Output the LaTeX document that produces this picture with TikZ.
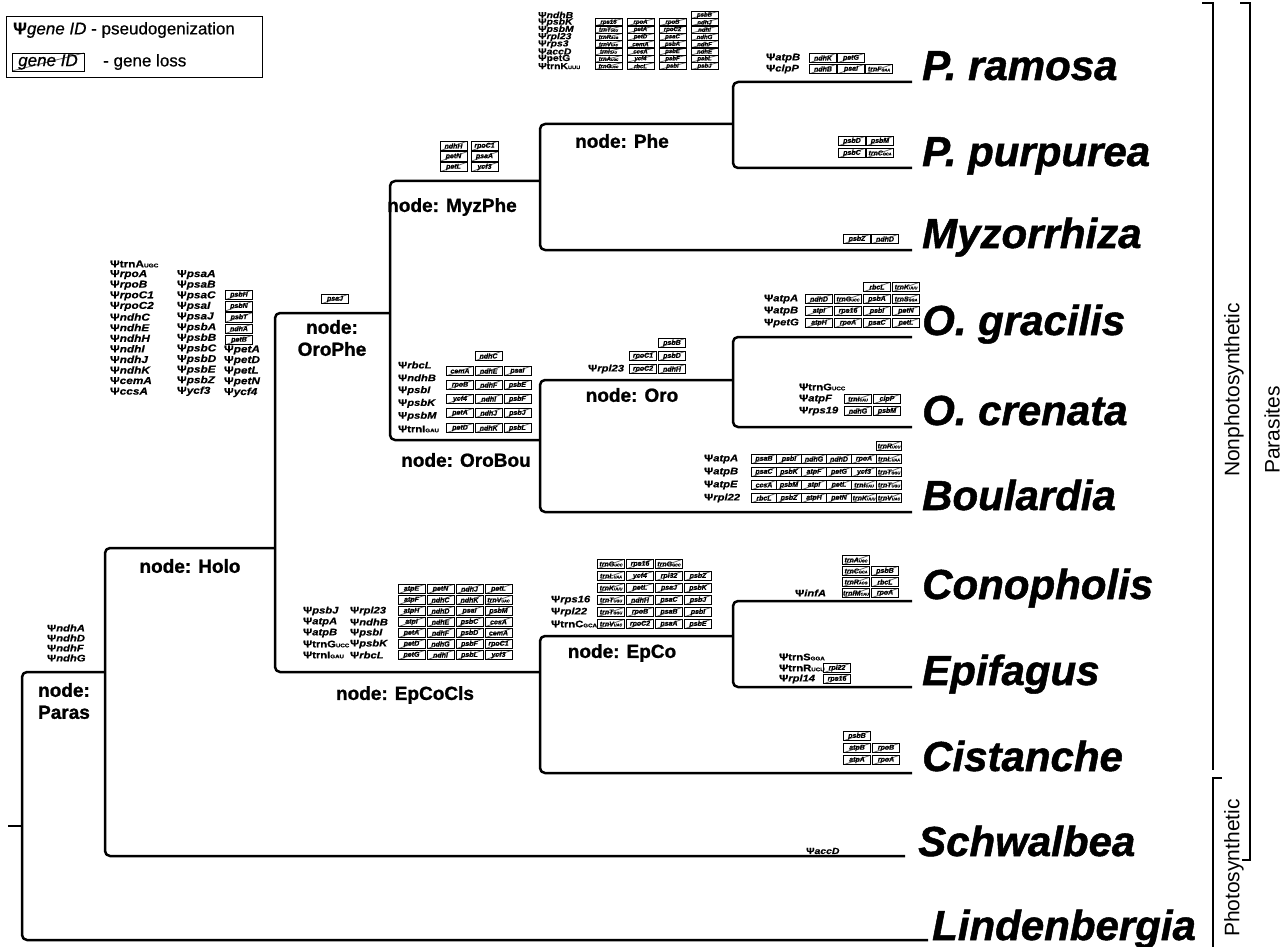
\documentclass[tikz,border=0pt]{standalone}
\usepackage{fontspec}
\setmainfont{Liberation Sans}
\newfontfamily\gf[FakeStretch=1.18,FakeBold=0.6]{Liberation Sans}
\newfontfamily\mdf[FakeBold=0.6]{Liberation Sans}
\newfontfamily\hv[FakeBold=1.2]{Liberation Sans}
\newcommand\an[1]{\scalebox{0.55}{#1}}
\newcommand\pg[1]{Ψ\textit{#1}}
\newcommand\pgu[1]{Ψ#1}
\newcommand\lrow[6][]{\foreach \g [count=\i] in {#6} {\node[lossbox,#1] (#2-\i) at ({#3+(\i-1)*#4},#5) {\g};}}
\newcommand\plist[6][]{\foreach \g [count=\i] in {#6} {\node[psi,#1] (#2-\i) at (#3,{#4+(\i-1)*#5}) {\g};}}
\tikzset{
 tree/.style={line width=2.5pt, rounded corners=5pt, line join=round},
 lossbox/.style={draw=black, line width=0.8pt, minimum width=27pt, minimum height=9.6pt, inner sep=0pt,
   font=\mdf\bfseries\itshape\fontsize{7}{7}\selectfont,
   path picture={\draw[line width=0.8pt, black!60] (path picture bounding box.south west) -- (path picture bounding box.north east);}},
 phe/.style={minimum height=7pt, minimum width=27pt, font=\mdf\bfseries\itshape\fontsize{6}{6}\selectfont},
 w24/.style={minimum width=24.5pt},
 psi/.style={anchor=west, inner sep=0pt, font=\gf\bfseries\fontsize{9.5}{9.5}\selectfont},
 psis/.style={font=\gf\bfseries\fontsize{8.8}{8.8}\selectfont},
 psib/.style={font=\gf\bfseries\fontsize{10}{10}\selectfont},
 nlabel/.style={font=\hv\bfseries\fontsize{19}{22}\selectfont, align=center, inner sep=0pt},
 species/.style={anchor=base west, inner sep=0pt, font=\hv\bfseries\itshape\fontsize{42}{42}\selectfont},
 side/.style={rotate=90, font=\fontsize{21}{21}\selectfont, inner sep=0pt},
 bracket/.style={line width=1.3pt},
}
\begin{document}
\begin{tikzpicture}[x=1pt,y=-1pt]
\useasboundingbox (0,0) rectangle (1286,947);
% ---------- tips
\coordinate (ram) at (912,82);
\coordinate (pur) at (912,168);
\coordinate (myz) at (912,250);
\coordinate (gra) at (912,337);
\coordinate (cre) at (912,427);
\coordinate (bou) at (912,512);
\coordinate (con) at (912,601);
\coordinate (epi) at (912,687);
\coordinate (cis) at (912,773);
\coordinate (sch) at (905,856);
\coordinate (lin) at (928,940);
\coordinate (root) at (8,826);
% ---------- tree
\draw[tree] (root) -- (22,826);
\draw[tree] (105,672) -- (22,672) -- (22,940) -- (lin);
\draw[tree] (275,548) -- (105,548) -- (105,856) -- (sch);
\draw[tree] (390,313) -- (275,313) -- (275,672) -- (540,672);
\draw[tree] (540,181) -- (390,181) -- (390,440) -- (540,440);
\draw[tree] (733,124) -- (540,124) -- (540,250) -- (myz);
\draw[tree] (ram) -- (733,82) -- (733,168) -- (pur);
\draw[tree] (733,380) -- (540,380) -- (540,512) -- (bou);
\draw[tree] (gra) -- (733,337) -- (733,427) -- (cre);
\draw[tree] (733,636) -- (540,636) -- (540,773) -- (cis);
\draw[tree] (con) -- (733,601) -- (733,687) -- (epi);
% ---------- species
\node[species] (sp-ram) at (922,80) {P. ramosa};
\node[species] (sp-pur) at (922,166) {P. purpurea};
\node[species] (sp-myz) at (922,248) {Myzorrhiza};
\node[species] (sp-gra) at (922,335) {O. gracilis};
\node[species] (sp-cre) at (922,425) {O. crenata};
\node[species] (sp-bou) at (922,510) {Boulardia};
\node[species] (sp-con) at (922,599) {Conopholis};
\node[species] (sp-epi) at (922,685) {Epifagus};
\node[species] (sp-cis) at (922,771) {Cistanche};
\node[species] (sp-sch) at (918,856) {Schwalbea};
\node[species] (sp-lin) at (932,940) {Lindenbergia};
% ---------- node labels
\node[nlabel] (n-phe) at (622,141) {node: Phe};
\node[nlabel] (n-myzphe) at (452,207) {node: MyzPhe};
\node[nlabel] (n-orophe) at (332,338) {node:\\OroPhe};
\node[nlabel] (n-holo) at (190,566) {node: Holo};
\node[nlabel] (n-oro) at (632,395) {node: Oro};
\node[nlabel] (n-orobou) at (466,460) {node: OroBou};
\node[nlabel] (n-epco) at (622,653) {node: EpCo};
\node[nlabel] (n-epcocls) at (405,695) {node: EpCoCls};
\node[nlabel] (n-paras) at (64,701) {node:\\Paras};
% ---------- legend
\node[draw, line width=0.8pt, minimum width=256pt, minimum height=61pt, inner sep=0pt] (legend) at (134,46.5) {};
\node[anchor=west, inner sep=0pt, font=\mdf\fontsize{17}{17}\selectfont] (leg1) at (13,30) {\textbf{Ψ}\textit{gene ID} - pseudogenization};
\node[lossbox, minimum width=72pt, minimum height=18pt, font=\mdf\itshape\fontsize{17}{17}\selectfont] (leg2box) at (48,62) {gene ID};
\node[anchor=west, inner sep=0pt, font=\mdf\fontsize{17}{17}\selectfont] (leg2) at (103,62) {- gene loss};
% ---------- side brackets
\draw[bracket] (1240,3) -- (1250,3) -- (1250,860) -- (1242,860);
\node[side] (parasites) at (1272,430) {Parasites};
\draw[bracket] (1202,3) -- (1213,3) -- (1213,770);
\node[side] (nonphoto) at (1234,390) {Nonphotosynthetic};
\draw[bracket] (1222,778) -- (1213,778) -- (1213,947);
\node[side] (photo) at (1234,868) {Photosynthetic};
% ---------- Phe
\plist[psis]{phe-p}{538}{15}{7.3}{\pg{ndhB},\pg{psbK},\pg{psbM},\pg{rpl23},\pg{rps3},\pg{accD},\pgu{petG},\pgu{trnK\an{UUU}}}
\node[lossbox,phe] (phe-0) at (704.5,15) {psbB};
\lrow[phe]{phe1}{608.5}{32}{22.3}{rps16,rpoA,rpoB,ndhJ}
\lrow[phe]{phe2}{608.5}{32}{29.6}{trnT\an{UGU},petA,rpoC2,ndhI}
\lrow[phe]{phe3}{608.5}{32}{36.9}{trnR\an{ACG},petD,psaC,ndhG}
\lrow[phe]{phe4}{608.5}{32}{44.2}{trnV\an{UAC},cemA,psbA,ndhF}
\lrow[phe]{phe5}{608.5}{32}{51.5}{trnI\an{GAU},ccsA,psbE,ndhE}
\lrow[phe]{phe6}{608.5}{32}{58.8}{trnA\an{UGC},ycf4,psbF,psbL}
\lrow[phe]{phe7}{608.5}{32}{66.1}{trnG\an{UCC},rbcL,psbI,psbJ}
% ---------- P. ramosa / P. purpurea / Myzorrhiza
\plist{ram-p}{766}{58}{11}{\pg{atpB},\pg{clpP}}
\lrow{ram1}{823}{28}{58}{ndhK,petG}
\lrow{ram2}{823}{28}{69}{ndhB,psaI,trnF\an{GAA}}
\lrow{pur1}{852}{28}{141}{psbD,psbM}
\lrow{pur2}{852}{28}{153}{psbC,trnC\an{GCA}}
\lrow{myz}{857}{28}{239}{psbZ,ndhD}
% ---------- MyzPhe, OroPhe
\lrow{mp1}{453.5}{31}{146}{ndhH,rpoC1}
\lrow{mp2}{453.5}{31}{156.5}{petN,psaA}
\lrow{mp3}{453.5}{31}{167}{petL,ycf3}
\node[lossbox] (op-1) at (335,299) {psaJ};
% ---------- Holo
\plist[psib]{holo-a}{110}{264}{10.6}{\pgu{trnA\an{UGC}},\pg{rpoA},\pg{rpoB},\pg{rpoC1},\pg{rpoC2},\pg{ndhC},\pg{ndhE},\pg{ndhH},\pg{ndhI},\pg{ndhJ},\pg{ndhK},\pg{cemA},\pg{ccsA}}
\plist[psib]{holo-b}{177}{274.6}{10.6}{\pg{psaA},\pg{psaB},\pg{psaC},\pg{psaI},\pg{psaJ},\pg{psbA},\pg{psbB},\pg{psbC},\pg{psbD},\pg{psbE},\pg{psbZ},\pg{ycf3}}
\plist[psib]{holo-c}{224}{350}{10.6}{\pg{petA},\pg{petD},\pg{petL},\pg{petN},\pg{ycf4}}
\foreach \g [count=\i] in {psbH,psbN,psbT,ndhA,petB} {\node[lossbox] (holo-x\i) at (239,{283.5+11.3*\i}) {\g};}
% ---------- Paras
\plist{paras-p}{47}{628}{10}{\pg{ndhA},\pg{ndhD},\pg{ndhF},\pg{ndhG}}
% ---------- OroBou
\plist{ob-p}{398}{365}{12.8}{\pg{rbcL},\pg{ndhB},\pg{psbI},\pg{psbK},\pg{psbM},\pgu{trnI\an{GAU}}}
\node[lossbox] (ob-0) at (488.5,356) {ndhC};
\lrow{ob1}{460}{28.7}{371}{cemA,ndhE,psaI}
\lrow{ob2}{460}{28.7}{385}{rpoB,ndhF,psbE}
\lrow{ob3}{460}{28.7}{399}{ycf4,ndhI,psbF}
\lrow{ob4}{460}{28.7}{413}{petA,ndhJ,psbJ}
\lrow{ob5}{460}{28.7}{428}{petD,ndhK,psbL}
% ---------- Oro
\node[lossbox] (oro-0) at (672,343) {psbB};
\lrow{oro1}{643}{29}{356}{rpoC1,psbD}
\lrow{oro2}{643}{29}{369}{rpoC2,ndhH}
\node[psi] (oro-p) at (588,369) {\pg{rpl23}};
% ---------- O. gracilis
\lrow{gra0}{877}{29}{287}{rbcL,trnK\an{UUU}}
\lrow{gra1}{819}{29}{299}{ndhD,trnG\an{UCC},psbA,trnS\an{GGA}}
\lrow{gra2}{819}{29}{311}{atpI,rps16,psbI,petN}
\lrow{gra3}{819}{29}{323}{atpH,rpoA,psaC,petL}
\plist{gra-p}{764}{299}{12}{\pg{atpA},\pg{atpB},\pg{petG}}
% ---------- O. crenata
\plist{cre-p}{799}{387}{12}{\pgu{trnG\an{UCC}},\pg{atpF},\pg{rps19}}
\lrow{cre1}{858}{29}{399}{trnI\an{CAU},clpP}
\lrow{cre2}{858}{29}{411}{ndhG,psbM}
% ---------- Boulardia
\node[lossbox,w24] (bou-0) at (889,446) {trnR\an{UCU}};
\lrow[w24]{bou1}{764}{25}{459}{psaB,psbI,ndhG,ndhD,rpoA,trnL\an{UAA}}
\lrow[w24]{bou2}{764}{25}{472}{psaC,psbK,atpF,petG,ycf3,trnT\an{GGU}}
\lrow[w24]{bou3}{764}{25}{485}{ccsA,psbM,atpI,petL,trnI\an{CAU},trnT\an{UGU}}
\lrow[w24]{bou4}{764}{25}{498}{rbcL,psbZ,atpH,petN,trnK\an{UUU},trnV\an{UAC}}
\plist{bou-p}{704}{459}{13}{\pg{atpA},\pg{atpB},\pg{atpE},\pg{rpl22}}
% ---------- EpCoCls
\lrow{ecc0}{411.5}{29}{589}{atpE,petN,ndhJ,petL}
\lrow{ecc1}{411.5}{29}{600}{atpF,ndhC,ndhK,trnV\an{UAC}}
\lrow{ecc2}{411.5}{29}{611}{atpH,ndhD,psaI,psbM}
\lrow{ecc3}{411.5}{29}{622}{atpI,ndhE,psbC,ccsA}
\lrow{ecc4}{411.5}{29}{633}{petA,ndhF,psbD,cemA}
\lrow{ecc5}{411.5}{29}{644}{petD,ndhG,psbF,rpoC1}
\lrow{ecc6}{411.5}{29}{655}{petG,ndhI,psbL,ycf3}
\plist{ecc-a}{303}{611}{11}{\pg{psbJ},\pg{atpA},\pg{atpB},\pgu{trnG\an{UCC}},\pgu{trnI\an{GAU}}}
\plist{ecc-b}{350}{611}{11}{\pg{rpl23},\pg{ndhB},\pg{psbI},\pg{psbK},\pg{rbcL}}
% ---------- EpCo
\lrow{ec0}{611}{29}{564}{trnG\an{UCC},rps16,trnG\an{GCC}}
\lrow{ec1}{611}{29}{576}{trnL\an{UAA},ycf4,rpl32,psbZ}
\lrow{ec2}{611}{29}{588}{trnK\an{UUU},petL,psaJ,psbK}
\lrow{ec3}{611}{29}{600}{trnT\an{UGU},ndhH,psaC,psbJ}
\lrow{ec4}{611}{29}{612}{trnT\an{GGU},rpoB,psaB,psbI}
\lrow{ec5}{611}{29}{624}{trnV\an{UAC},rpoC2,psaA,psbE}
\plist{ec-p}{551}{600}{12}{\pg{rps16},\pg{rpl22},\pgu{trnC\an{GCA}}}
% ---------- Conopholis
\node[lossbox] (con-0) at (856,560) {trnA\an{UGC}};
\lrow{con1}{856}{29}{571}{trnC\an{GCA},psbB}
\lrow{con2}{856}{29}{582}{trnR\an{ACG},rbcL}
\lrow{con3}{856}{29}{593}{trnfM\an{CAU},rpoA}
\node[psi] (con-p) at (795,593) {\pg{infA}};
% ---------- Epifagus
\plist{epi-p}{779}{657}{11}{\pgu{trnS\an{GGA}},\pgu{trnR\an{UCU}},\pg{rpl14}}
\node[lossbox] (epi-1) at (837,668) {rpl22};
\node[lossbox] (epi-2) at (837,679) {rps16};
% ---------- Cistanche
\node[lossbox] (cis-0) at (857,736) {psbB};
\lrow{cis1}{857}{29}{748}{atpB,rpoB}
\lrow{cis2}{857}{29}{760}{atpA,rpoA}
% ---------- Schwalbea
\node[psi,psis] (sch-p) at (806,851) {\pg{accD}};
\end{tikzpicture}
\end{document}
